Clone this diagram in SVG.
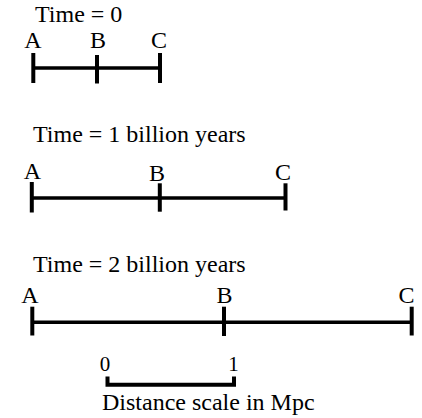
<svg xmlns="http://www.w3.org/2000/svg" width="422" height="418" viewBox="0 0 422 418">
<style>
.t{font-size:24px}
.l{font-size:24px;text-anchor:middle}
.d{font-size:21px;text-anchor:middle}
.bar{stroke:#000;stroke-width:3.5;fill:none}
.tick{stroke:#000;stroke-width:4;fill:none}
</style>
<rect width="422" height="418" fill="#fff"/>
<g font-family="'Liberation Serif', 'Times New Roman', serif" fill="#000">
<g id="row0">
<text class="t" x="35" y="21.5">Time = 0</text>
<text class="l" x="33" y="47.5">A</text>
<text class="l" x="98" y="47.5">B</text>
<text class="l" x="159" y="47.5">C</text>
</g>
<g id="row1">
<text class="t" x="33" y="141.5">Time = 1 billion years</text>
<text class="l" x="32.5" y="178.5">A</text>
<text class="l" x="157" y="180.5">B</text>
<text class="l" x="283" y="180">C</text>
</g>
<g id="row2">
<text class="t" x="33" y="271.5">Time = 2 billion years</text>
<text class="l" x="30" y="303">A</text>
<text class="l" x="224.5" y="303">B</text>
<text class="l" x="406.5" y="303">C</text>
</g>
<g id="scale">
<text class="d" x="105" y="371">0</text>
<text class="d" x="233.5" y="371">1</text>
<text class="t" x="102" y="409.5">Distance scale in Mpc</text>
</g>
</g>
<g id="connectors">
<line class="bar" x1="33" y1="68" x2="160" y2="68"/>
<line class="tick" x1="33.3" y1="53" x2="33.3" y2="83"/>
<line class="tick" x1="97" y1="55" x2="97" y2="83.5"/>
<line class="tick" x1="160" y1="53" x2="160" y2="83"/>
<line class="bar" x1="32" y1="198" x2="285" y2="198"/>
<line class="tick" x1="31.8" y1="182" x2="31.8" y2="212.5"/>
<line class="tick" x1="159.8" y1="183.3" x2="159.8" y2="211.7"/>
<line class="tick" x1="285.5" y1="183.3" x2="285.5" y2="210.5"/>
<line class="bar" x1="32" y1="322.3" x2="412" y2="322.3"/>
<line class="tick" x1="32.3" y1="306.7" x2="32.3" y2="335.5"/>
<line class="tick" x1="224" y1="306.7" x2="224" y2="336"/>
<line class="tick" x1="411.7" y1="306.7" x2="411.7" y2="335.5"/>
<path class="tick" d="M107.5 376.5V384.7H234V376.5"/>
</g>
</svg>
